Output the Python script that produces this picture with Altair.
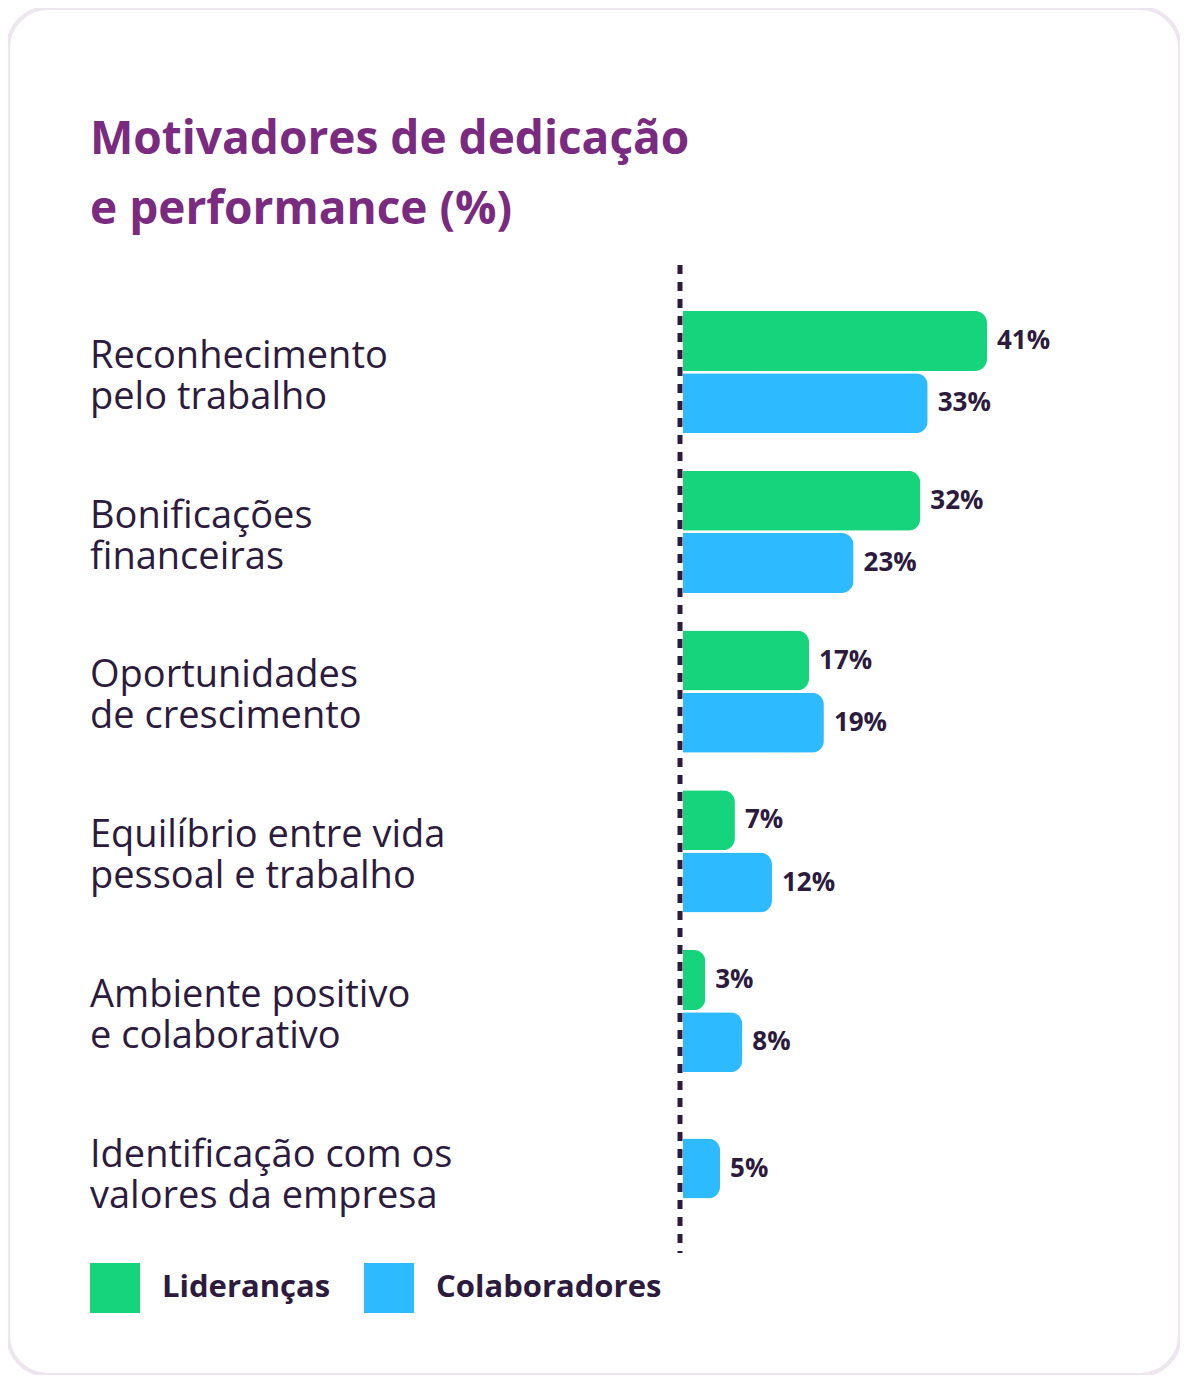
import altair as alt
import pandas as pd

categorias = [
    "Reconhecimento\npelo trabalho",
    "Bonificações\nfinanceiras",
    "Oportunidades\nde crescimento",
    "Equilíbrio entre vida\npessoal e trabalho",
    "Ambiente positivo\ne colaborativo",
    "Identificação com os\nvalores da empresa",
]
liderancas = [41, 32, 17, 7, 3, None]
colaboradores = [33, 23, 19, 12, 8, 5]
series = ["Lideranças", "Colaboradores"]
cores = ["#16D47B", "#2EBAFF"]

TXT = "#2D1B3D"
FONT = "Open Sans"

# linhas de barras: posição dentro do grupo
rows = []
for g, cat in enumerate(categorias):
    tem_lid = liderancas[g] is not None
    if tem_lid:
        rows.append({"cat": cat, "serie": series[0], "valor": liderancas[g], "pos": g})
    rows.append({"cat": cat, "serie": series[1], "valor": colaboradores[g],
                 "pos": g + (0.39 if tem_lid else 0.18)})
df = pd.DataFrame(rows)
df["rotulo"] = df["valor"].astype(int).astype(str) + "%"
df_cat = pd.DataFrame({"cat": categorias, "pos": [g + 0.10 for g in range(len(categorias))]})

y_scale = alt.Scale(domain=[0, 8], range=[328, 328 + 161 * 8])
x_scale = alt.Scale(domain=[0, 41], range=[675, 979])

barras = alt.Chart(df).mark_bar(size=60, cornerRadiusEnd=12, orient="horizontal").encode(
    x=alt.X("valor:Q", scale=x_scale, axis=None),
    y=alt.Y("pos:Q", scale=y_scale, axis=None),
    color=alt.Color("serie:N", scale=alt.Scale(domain=series, range=cores),
                    legend=alt.Legend(title=None, orient="none", legendX=82, legendY=1255,
                                      direction="horizontal", symbolType="square",
                                      symbolSize=2500, symbolStrokeWidth=0, symbolOpacity=1,
                                      labelFontSize=31, labelFont=FONT, labelFontWeight="bold",
                                      labelColor=TXT, labelOffset=22, columnPadding=33,
                                      labelLimit=500)),
)

valores = alt.Chart(df).mark_text(align="left", baseline="middle", dx=10, fontSize=26,
                                   font=FONT, fontWeight="bold", color=TXT).encode(
    x=alt.X("valor:Q", scale=x_scale, axis=None),
    y=alt.Y("pos:Q", scale=y_scale, axis=None),
    text="rotulo:N",
)

nomes = alt.Chart(df_cat).mark_text(align="left", baseline="middle", fontSize=38, font=FONT,
                                    color=TXT, lineBreak="\n", lineHeight=41).encode(
    x=alt.value(82),
    y=alt.Y("pos:Q", scale=y_scale, axis=None),
    text="cat:N",
)

linha = alt.Chart(pd.DataFrame({"a": [0]})).mark_rule(color=TXT, strokeWidth=5,
                                                     strokeDash=[9, 8]).encode(
    x=alt.value(672), y=alt.value(257), y2=alt.value(1245),
)

titulo = alt.Chart(pd.DataFrame({"t": ["Motivadores de dedicação\ne performance (%)"]})).mark_text(
    align="left", baseline="middle", fontSize=46, font=FONT, fontWeight="bold",
    color="#7A2A7F", lineBreak="\n", lineHeight=70,
).encode(x=alt.value(82), y=alt.value(132), text="t:N")

chart = alt.layer(linha, barras, valores, nomes, titulo).properties(
    width=1172, height=1367, padding=0, autosize="none",
).configure_view(
    fill="white", stroke="#EDE6EE", strokeWidth=4, cornerRadius=40,
)

chart.save("out.html", embed_options={"renderer": "svg", "actions": False})
